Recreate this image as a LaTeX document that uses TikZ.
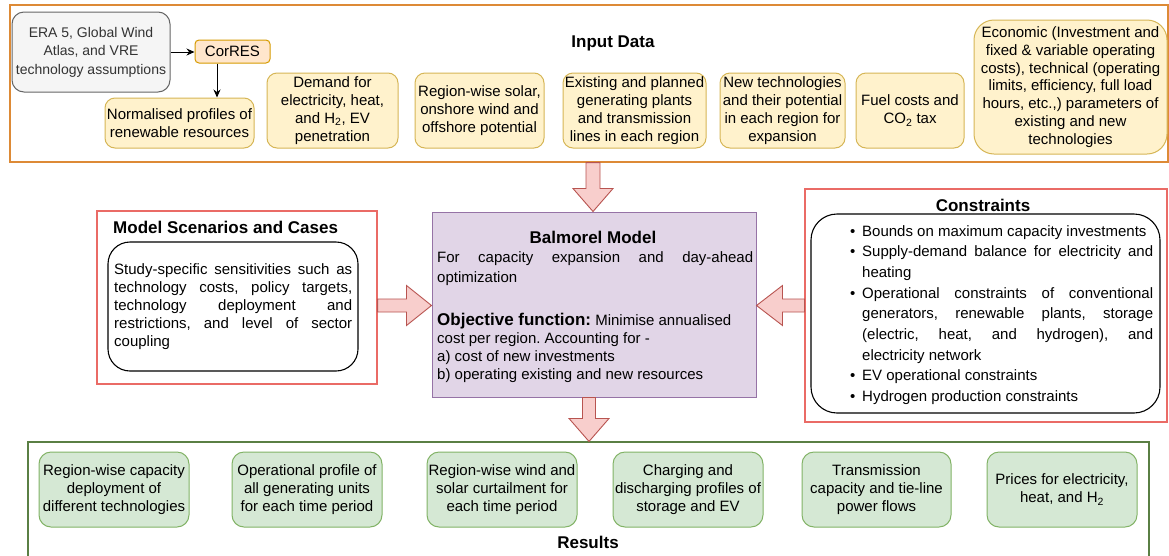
\documentclass[tikz,border=0pt]{standalone}
\usepackage{fontspec}
\setmainfont{Liberation Sans}
\usetikzlibrary{arrows.meta,calc}
\definecolor{inB}{HTML}{DD8A36}
\definecolor{yF}{HTML}{FFF2CC}
\definecolor{yB}{HTML}{D6B656}
\definecolor{oF}{HTML}{FFE6CC}
\definecolor{oB}{HTML}{D79B00}
\definecolor{gF}{HTML}{F5F5F5}
\definecolor{gB}{HTML}{666666}
\definecolor{rB}{HTML}{EA6B66}
\definecolor{aF}{HTML}{F8CECC}
\definecolor{aB}{HTML}{B85450}
\definecolor{pF}{HTML}{E1D5E7}
\definecolor{pB}{HTML}{9673A6}
\definecolor{grF}{HTML}{D5E8D4}
\definecolor{grB}{HTML}{82B366}
\definecolor{resB}{HTML}{5A7F44}
\newcommand{\cbul}{\makebox[12pt][l]{\textbullet}}
\newcommand{\cind}{\hspace*{12pt}}
\frenchspacing
\begin{document}
\begin{tikzpicture}[x=1pt,y=-1pt,
  txt/.style={inner sep=0pt, font=\fontsize{15}{18}\selectfont, align=center},
  ttl/.style={inner sep=0pt, font=\fontsize{17}{20}\selectfont\bfseries},
  frame/.style={draw, line width=1.1pt, inner sep=0pt},
  ybox/.style={txt, draw=yB, fill=yF, rounded corners=10pt, line width=1pt},
  gbox/.style={txt, draw=grB, fill=grF, rounded corners=12pt, line width=1pt},
  blackbox/.style={draw=black, fill=white, line width=1.1pt, rounded corners=22pt, inner sep=0pt},
  barrow/.style={draw=aB, fill=aF, line width=0.9pt, line join=miter},
  sarrow/.style={-{Stealth[length=8pt,width=7pt]}, line width=1pt, black},
]
\fill[white] (0,0) rectangle (1169,555);
\useasboundingbox (0,0) rectangle (1169,555);

% ---------------- Input data ----------------
\node[frame, draw=inB, minimum width=1158, minimum height=157] (inp) at (589,83.5) {};
\node[ttl] (inptitle) at (613,43) {Input Data};

\node[txt, draw=gB, fill=gF, rounded corners=12pt, line width=1pt, text=black!80,
      font=\fontsize{14}{18.5}\selectfont,
      minimum width=158, minimum height=80] (era) at (91,52)
      {ERA 5, Global Wind\\Atlas, and VRE\\technology assumptions};
\node[txt, draw=oB, fill=oF, rounded corners=4pt, line width=1pt,
      minimum width=75, minimum height=23] (cor) at (232.5,51.5) {CorRES};
\node[ybox, minimum width=149, minimum height=50] (norm) at (179.5,123)
      {Normalised profiles of\\renewable resources};
\node[ybox, minimum width=131, minimum height=75] (dem) at (332.5,110.5)
      {Demand for\\electricity, heat,\\and H\textsubscript{2}, EV\\penetration};
\node[ybox, minimum width=129, minimum height=75] (sol) at (479.5,110.5)
      {Region-wise solar,\\onshore wind and\\offshore potential};
\node[ybox, minimum width=143, minimum height=75] (exist) at (634.5,110.5)
      {Existing and planned\\generating plants\\and transmission\\lines in each region};
\node[ybox, minimum width=125, minimum height=75] (newt) at (782.5,110.5)
      {New technologies\\and their potential\\in each region for\\expansion};
\node[ybox, minimum width=108, minimum height=75] (fuel) at (910,110.5)
      {Fuel costs and\\CO\textsubscript{2} tax};
\node[ybox, rounded corners=20pt, minimum width=193, minimum height=134,
      font=\fontsize{15}{17.8}\selectfont] (econ) at (1070.5,87)
      {Economic (Investment and\\fixed \& variable operating\\costs), technical (operating\\limits, efficiency, full load\\hours, etc.,) parameters of\\existing and new\\technologies};

\draw[sarrow] (era.east) -- (era.east -| cor.west);
\coordinate (cdown) at ([xshift=-15.5pt]cor.south);
\draw[sarrow] (cdown) -- (cdown |- norm.north);

% ---------------- Model scenarios ----------------
\node[frame, draw=rB, minimum width=280, minimum height=173] (scen) at (237,297.5) {};
\node[ttl, anchor=west] (scentitle) at (113,227) {Model Scenarios and Cases};
\node[blackbox, minimum width=250, minimum height=129] (scenin) at (233,306.5) {};
\node[txt, align=left, anchor=west] (scentxt) at (114,307)
  {\makebox[238pt][s]{Study-specific sensitivities such as}\\
   \makebox[238pt][s]{technology costs, policy targets,}\\
   \makebox[238pt][s]{technology deployment and}\\
   \makebox[238pt][s]{restrictions, and level of sector}\\
   coupling};

% ---------------- Balmorel ----------------
\node[frame, draw=pB, fill=pF, line width=1pt, minimum width=324, minimum height=185] (bal) at (594,304.5) {};
\node[ttl] (baltitle) at (593,237) {Balmorel Model};
\node[txt, align=left, anchor=west, font=\fontsize{15}{20}\selectfont] (balp1) at (437,269)
  {\makebox[316pt][s]{For capacity expansion and day-ahead}\\optimization};
\node[txt, align=left, anchor=west] (balp2) at (437,348)
  {{\fontsize{17}{18}\selectfont\bfseries Objective function:} Minimise annualised\\
   cost per region. Accounting for -\\
   a) cost of new investments\\
   b) operating existing and new resources};

% ---------------- Constraints ----------------
\node[frame, draw=rB, minimum width=362, minimum height=233] (cons) at (986,305.5) {};
\node[ttl] (constitle) at (983,205) {Constraints};
\node[blackbox, rounded corners=26pt, minimum width=349, minimum height=199] (consin) at (985.5,313.5) {};
\node[txt, align=left, anchor=west, font=\fontsize{15}{20.7}\selectfont] (constxt) at (850,315)
  {\cbul Bounds on maximum capacity investments\\
   \cbul\makebox[291pt][s]{Supply-demand balance for electricity and}\\
   \cind heating\\
   \cbul\makebox[291pt][s]{Operational constraints of conventional}\\
   \cind\makebox[291pt][s]{generators, renewable plants, storage}\\
   \cind\makebox[291pt][s]{(electric, heat, and hydrogen), and}\\
   \cind electricity network\\
   \cbul EV operational constraints\\
   \cbul Hydrogen production constraints};

% ---------------- Results ----------------
\node[frame, draw=resB, minimum width=1121, minimum height=118] (res) at (588.5,501) {};
\node[ttl] (restitle) at (588,542) {Results};
\node[gbox, minimum width=150, minimum height=75] (g1) at (114,489.5)
  {Region-wise capacity\\deployment of\\different technologies};
\node[gbox, minimum width=150, minimum height=75] (g2) at (307,489.5)
  {Operational profile of\\all generating units\\for each time period};
\node[gbox, minimum width=150, minimum height=75] (g3) at (502,489.5)
  {Region-wise wind and\\solar curtailment for\\each time period};
\node[gbox, minimum width=150, minimum height=75] (g4) at (688,489.5)
  {Charging and\\discharging profiles of\\storage and EV};
\node[gbox, minimum width=149, minimum height=75] (g5) at (876.5,489.5)
  {Transmission\\capacity and tie-line\\power flows};
\node[gbox, minimum width=150, minimum height=75] (g6) at (1062,489.5)
  {Prices for electricity,\\heat, and H\textsubscript{2}};

% ---------------- Block arrows ----------------
% input -> balmorel
\coordinate (d1t) at ([xshift=-1pt]bal.north);
\coordinate (d1b) at (d1t |- inp.south);
\draw[barrow] ($(d1b)+(-7,0)$) -- ($(d1t)+(-7,-23)$) -- ($(d1t)+(-20,-23)$) -- (d1t)
  -- ($(d1t)+(20,-23)$) -- ($(d1t)+(7,-23)$) -- ($(d1b)+(7,0)$) -- cycle;
% balmorel -> results
\coordinate (d2b) at ([xshift=-5pt]bal.south);
\coordinate (d2t) at (d2b |- res.north);
\draw[barrow] ($(d2b)+(-6.5,0)$) -- ($(d2t)+(-6.5,-23)$) -- ($(d2t)+(-20,-23)$) -- (d2t)
  -- ($(d2t)+(20,-23)$) -- ($(d2t)+(6.5,-23)$) -- ($(d2b)+(6.5,0)$) -- cycle;
% scenarios -> balmorel
\coordinate (l1t) at ([yshift=-1pt]bal.west);
\coordinate (l1b) at (scen.east |- l1t);
\draw[barrow] ($(l1b)+(0,-6.5)$) -- ($(l1t)+(-25,-6.5)$) -- ($(l1t)+(-25,-20)$) -- (l1t)
  -- ($(l1t)+(-25,20)$) -- ($(l1t)+(-25,6.5)$) -- ($(l1b)+(0,6.5)$) -- cycle;
% constraints -> balmorel
\coordinate (r1t) at ([yshift=-1pt]bal.east);
\coordinate (r1b) at (cons.west |- r1t);
\draw[barrow] ($(r1b)+(0,-6.5)$) -- ($(r1t)+(26,-6.5)$) -- ($(r1t)+(26,-20)$) -- (r1t)
  -- ($(r1t)+(26,20)$) -- ($(r1t)+(26,6.5)$) -- ($(r1b)+(0,6.5)$) -- cycle;
\end{tikzpicture}
\end{document}
